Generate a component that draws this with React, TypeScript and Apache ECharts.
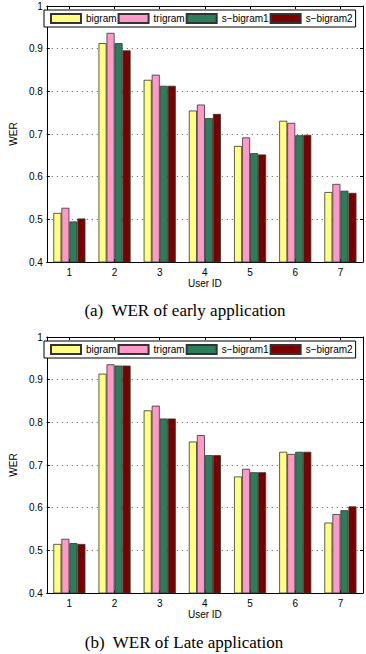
import React, { useEffect, useRef } from "react";
import * as echarts from "echarts";

// User IDs along the x axis
const userIds = ["1", "2", "3", "4", "5", "6", "7"];
const seriesNames = ["bigram", "trigram", "s\u2212bigram1", "s\u2212bigram2"];
const seriesColors = ["#FFFF80", "#FF99C8", "#2E7D5A", "#7A0000"];

// WER, early application
const earlyBigram = [0.515, 0.913, 0.827, 0.755, 0.672, 0.731, 0.564];
const earlyTrigram = [0.527, 0.937, 0.839, 0.769, 0.692, 0.726, 0.583];
const earlySBigram1 = [0.495, 0.913, 0.813, 0.737, 0.655, 0.697, 0.567];
const earlySBigram2 = [0.502, 0.896, 0.813, 0.747, 0.652, 0.698, 0.562];

// WER, late application
const lateBigram = [0.515, 0.914, 0.828, 0.755, 0.673, 0.731, 0.565];
const lateTrigram = [0.527, 0.936, 0.839, 0.770, 0.691, 0.726, 0.585];
const lateSBigram1 = [0.517, 0.933, 0.809, 0.723, 0.683, 0.731, 0.594];
const lateSBigram2 = [0.515, 0.933, 0.809, 0.723, 0.683, 0.731, 0.603];

const yMin = 0.4;
const yMax = 1;
const yStep = 0.1;

const captionTop = "(a)\u00a0 WER of early application";
const captionBottom = "(b)\u00a0 WER of Late application";

const SANS = "'Liberation Sans', Arial, sans-serif";
const SERIF = "'Liberation Serif', 'Times New Roman', serif";

const panels = [
  { top: 6, height: 256, data: [earlyBigram, earlyTrigram, earlySBigram1, earlySBigram2] },
  { top: 337, height: 256, data: [lateBigram, lateTrigram, lateSBigram1, lateSBigram2] },
];

export default function App() {
  const ref = useRef<HTMLDivElement>(null);

  useEffect(() => {
    if (!ref.current) return;
    const chart = echarts.init(ref.current, null, { renderer: "svg" });

    const grids: any[] = [];
    const xAxes: any[] = [];
    const yAxes: any[] = [];
    const series: any[] = [];
    const legends: any[] = [];

    panels.forEach((p, pi) => {
      grids.push({ left: 37, width: 326, top: p.top, height: p.height });
      const line = { show: true, lineStyle: { color: "#000", width: 1 } };
      const tick = { show: true, inside: true, length: 3, lineStyle: { color: "#000" } };
      // bottom category axis
      xAxes.push({
        type: "category",
        gridIndex: pi,
        data: userIds,
        position: "bottom",
        axisLine: line,
        axisTick: { ...tick, alignWithLabel: true },
        axisLabel: { color: "#000", fontSize: 10, fontFamily: SANS, margin: 5 },
        name: "User ID",
        nameLocation: "middle",
        nameGap: 16,
        nameTextStyle: { color: "#000", fontSize: 10, fontFamily: SANS },
        splitLine: { show: false },
      });
      // top frame with ticks
      xAxes.push({
        type: "category",
        gridIndex: pi,
        data: userIds,
        position: "top",
        axisLine: line,
        axisTick: { ...tick, alignWithLabel: true },
        axisLabel: { show: false },
        splitLine: { show: false },
      });
      // left value axis
      yAxes.push({
        type: "value",
        gridIndex: pi,
        min: yMin,
        max: yMax,
        interval: yStep,
        position: "left",
        axisLine: line,
        axisTick: tick,
        axisLabel: { color: "#000", fontSize: 10, fontFamily: SANS, margin: 4 },
        name: "WER",
        nameLocation: "middle",
        nameRotate: 90,
        nameGap: 20,
        nameTextStyle: { color: "#000", fontSize: 10, fontFamily: SANS },
        splitLine: { show: true, lineStyle: { color: "#555", width: 1, type: [1, 4] } },
      });
      // right frame with ticks
      yAxes.push({
        type: "value",
        gridIndex: pi,
        min: yMin,
        max: yMax,
        interval: yStep,
        position: "right",
        axisLine: line,
        axisTick: tick,
        axisLabel: { show: false },
        splitLine: { show: false },
      });

      p.data.forEach((values, si) => {
        series.push({
          type: "bar",
          name: seriesNames[si],
          xAxisIndex: pi * 2,
          yAxisIndex: pi * 2,
          data: values,
          barGap: "0%",
          barCategoryGap: "29%",
          itemStyle: { color: seriesColors[si], borderColor: "#333", borderWidth: 0.8 },
        });
      });

      legends.push({
        left: 44,
        top: p.top + 4,
        orient: "horizontal",
        data: seriesNames,
        icon: "rect",
        itemWidth: 30,
        itemHeight: 9,
        itemGap: 1,
        padding: [3, 3, 3, 6],
        backgroundColor: "#fff",
        borderColor: "#000",
        borderWidth: 1,
        borderRadius: 0,
        textStyle: { color: "#000", fontSize: 10, fontFamily: SANS },
        selectedMode: false,
      });
    });

    chart.setOption({
      animation: false,
      backgroundColor: "#fff",
      grid: grids,
      xAxis: xAxes,
      yAxis: yAxes,
      legend: legends,
      series,
      graphic: [
        {
          type: "text",
          x: 185,
          y: 310,
          style: {
            text: captionTop,
            fill: "#000",
            font: `17px ${SERIF}`,
            align: "center",
            verticalAlign: "middle",
          },
        },
        {
          type: "text",
          x: 184,
          y: 642,
          style: {
            text: captionBottom,
            fill: "#000",
            font: `17px ${SERIF}`,
            align: "center",
            verticalAlign: "middle",
          },
        },
      ],
    });

    return () => chart.dispose();
  }, []);

  return (
    <div
      ref={ref}
      style={{ position: "fixed", left: 0, top: 0, width: 366, height: 654, background: "#fff" }}
    />
  );
}
